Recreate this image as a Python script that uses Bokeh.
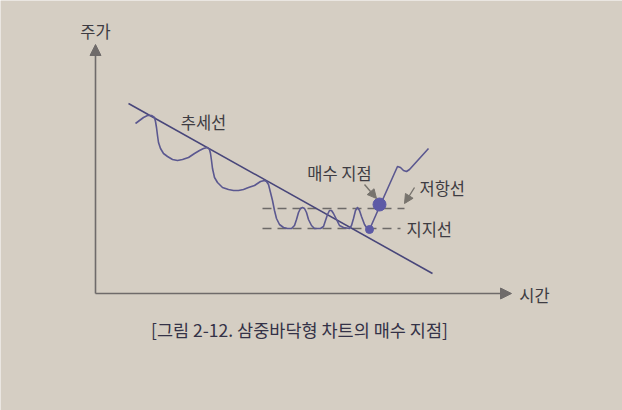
from bokeh.plotting import figure
from bokeh.models import Range1d, Arrow, NormalHead, ColumnDataSource
from bokeh.core.properties import value
from bokeh.embed import file_html
from bokeh.resources import INLINE

# Coordinates: time (x) and price (y) in diagram units
trend_t = [128, 432]
trend_p = [307, 137]

price_t = [135, 139, 143, 147, 151, 154, 155, 156, 157, 158, 160, 163, 167, 172, 177, 182, 188, 194,
           199, 203, 207, 209, 210, 211, 212, 214, 217, 222, 228, 233, 238, 243, 248, 254, 260, 264,
           266, 268, 270, 272, 274, 276, 279, 283, 287, 291, 294, 296, 298, 300, 302, 304, 306, 308,
           311, 314, 320, 323, 325, 327, 329, 331, 333, 336, 339, 343, 349, 351, 353, 355, 357, 359,
           361, 364, 366, 369, 380, 397, 400, 403, 406, 409, 428]
price_img = [123, 120, 117, 115, 115, 117, 121, 127, 135, 142, 148, 153, 156, 159, 160, 159, 157, 153,
             150, 148, 147, 149, 153, 160, 168, 177, 182, 187, 189, 190, 190, 189, 187, 185, 181, 180,
             181, 184, 192, 200, 210, 218, 224, 227, 228, 228, 225, 219, 212, 208, 207, 208, 212, 219,
             225, 228, 228, 226, 220, 214, 210, 210, 213, 219, 225, 227, 228, 225, 218, 210, 207, 210,
             216, 224, 227, 229, 204, 166, 167, 170, 171, 169, 148]
price_p = [410 - v for v in price_img]

resist_t = [262, 404]
resist_p = [202, 202]
support_t = [262, 400]
support_p = [182, 182]

buy_t = [379]
buy_p = [206]
low_t = [369]
low_p = [181]

labels = ["주가", "시간", "추세선", "매수 지점", "저항선", "지지선"]
label_t = [95, 534, 203, 339, 419, 406]
label_p = [380, 116, 289, 238, 223, 182]
label_align = ["center", "center", "center", "center", "left", "left"]

caption = "[그림 2-12. 삼중바닥형 차트의 매수 지점]"

BG = "#d5cec3"
FONT = value("Noto Sans CJK KR")

p = figure(width=622, height=410, output_backend="svg", toolbar_location=None,
           x_range=Range1d(0, 622), y_range=Range1d(0, 410), min_border=0)
p.axis.visible = False
p.grid.visible = False
p.outline_line_color = None
p.background_fill_color = BG
p.border_fill_color = BG

axis_col = "#6f6b6a"
# axes with arrows
p.add_layout(Arrow(end=NormalHead(size=11, fill_color=axis_col, line_color=axis_col),
                   x_start=95, y_start=117, x_end=95, y_end=366,
                   line_color=axis_col, line_width=1.6))
p.add_layout(Arrow(end=NormalHead(size=11, fill_color=axis_col, line_color=axis_col),
                   x_start=95, y_start=117, x_end=511, y_end=117,
                   line_color=axis_col, line_width=1.6))

# dashed support / resistance
p.line(resist_t, resist_p, line_color="#6d6a68", line_width=1.3, line_dash="9 6")
p.line(support_t, support_p, line_color="#6d6a68", line_width=1.3, line_dash="9 6")

# trend line
p.line(trend_t, trend_p, line_color="#48467a", line_width=1.6)
# price curve
p.line(price_t, price_p, line_color="#5b5890", line_width=1.6, line_join="round")

p.scatter(low_t, low_p, size=8, fill_color="#5d5aa6", line_color="#5d5aa6")
p.scatter(buy_t, buy_p, size=13, fill_color="#5d5aa6", line_color="#5d5aa6")

# annotation arrows
arr_src = ColumnDataSource(dict(x0=[364, 414], y0=[226, 223], x1=[376, 404], y1=[212, 207]))
p.add_layout(Arrow(end=NormalHead(size=9, fill_color="#77736d", line_color="#77736d"),
                   x_start="x0", y_start="y0", x_end="x1", y_end="y1", source=arr_src,
                   line_color="#77736d", line_width=1.4))

src = ColumnDataSource(dict(t=label_t, p=label_p, text=labels, align=label_align))
p.text(x="t", y="p", text="text", source=src, text_align="align", text_baseline="middle",
       text_font=FONT, text_font_size="16.5px", text_color="#3e3c42")

p.text(x=[299], y=[81], text=[caption], text_align="center", text_baseline="middle",
       text_font=FONT, text_font_size="17.5px", text_color="#343247")

open("out.html", "w").write(file_html(p, INLINE))
